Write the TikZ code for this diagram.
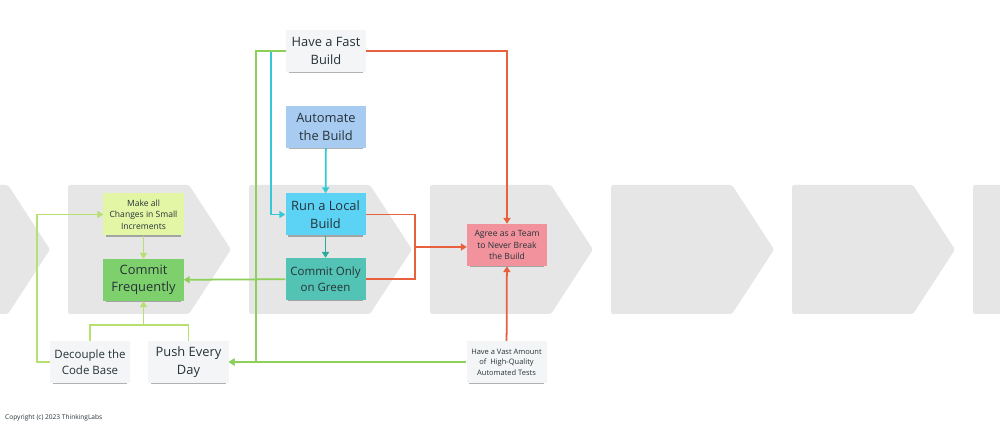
\documentclass[tikz,border=0pt]{standalone}
\usepackage{fontspec}
\setmainfont{Open Sans}
\usepackage{tikz}
\usetikzlibrary{arrows.meta,positioning,shadows}
\definecolor{LaneGray}{HTML}{E6E6E6}
\definecolor{NoteWhite}{HTML}{F4F5F6}
\definecolor{NoteText}{HTML}{263238}
\definecolor{AutoBlue}{HTML}{A8CBF2}
\definecolor{LocalCyan}{HTML}{5CD3F4}
\definecolor{GreenTeal}{HTML}{52C3B4}
\definecolor{TeamPink}{HTML}{F2929C}
\definecolor{StepLime}{HTML}{E2F6A6}
\definecolor{FreqGreen}{HTML}{7ED06C}
\definecolor{LinkRed}{HTML}{E9603E}
\definecolor{LinkCyan}{HTML}{35C9D6}
\definecolor{LinkTeal}{HTML}{2BAA99}
\definecolor{LinkGreen}{HTML}{8CD05A}
\definecolor{LinkLime}{HTML}{B8E070}

\begin{document}
\begin{tikzpicture}[x=0.03cm,y=-0.03cm,
        lane/.style={fill=LaneGray,rounded corners=2pt},
        note/.style={minimum width=2.4cm,minimum height=1.26cm,
                     align=center,inner sep=1pt,text=NoteText,
                     drop shadow={shadow xshift=0pt,shadow yshift=-2.5pt,
                                  shadow scale=0.93,opacity=0.4,fill=black!75}},
        txtbig/.style={font=\fontsize{11}{15}\selectfont},
        txtmid/.style={font=\fontsize{9.8}{13.6}\selectfont},
        txtsmall/.style={font=\fontsize{7.3}{9.8}\selectfont},
        txttiny/.style={font=\fontsize{6.4}{8.9}\selectfont},
        link/.style={line width=1.5pt},
        arrow/.style={link,-{Triangle[length=5pt,width=6pt]}}]
        \clip (0,0) rectangle (1000,427);
        \fill[white] (0,0) rectangle (1000,427);
        % value stream lanes
        \foreach \x in {-113,68,249,430,611,792,973}
          \fill[lane] (\x,185) -- (\x+121,185) -- (\x+163,249.5)
                      -- (\x+121,314) -- (\x,314) -- cycle;
        % notes
        \node[note,txtbig,fill=NoteWhite] (fast) at (326,51)
          {Have a Fast\\Build};
        \node[note,txtbig,fill=AutoBlue] (auto) at (326,127)
          {Automate\\the Build};
        \node[note,txtbig,fill=LocalCyan] (local) at (325.5,214.5)
          {Run a Local\\Build};
        \node[note,txtmid,fill=GreenTeal] (green) at (325.5,279)
          {Commit Only\\on Green};
        \node[note,txtsmall,fill=TeamPink] (team) at (507,245)
          {Agree as a Team\\to Never Break\\the Build};
        \node[note,txtsmall,fill=StepLime] (small) at (143.5,214.5)
          {Make all\\Changes in Small\\Increments};
        \node[note,txtbig,fill=FreqGreen] (freq) at (143.5,280)
          {Commit\\Frequently};
        \node[note,txtmid,fill=NoteWhite] (decouple) at (90,362)
          {Decouple the\\Code Base};
        \node[note,txtbig,fill=NoteWhite] (push) at (188.5,362)
          {Push Every\\Day};
        \node[note,txttiny,fill=NoteWhite] (tests) at (506.5,362)
          {Have a Vast Amount\\of\ \ High-Quality\\Automated Tests};
        \node[anchor=west,inner sep=0pt,font=\fontsize{5.6}{7}\selectfont,
              text=NoteText] (copy) at (5,418)
          {Copyright (c) 2023 ThinkingLabs};
        \coordinate (join) at (415,247);
        \coordinate (merge) at (143.5,325);
        % red links
        \draw[arrow,LinkRed] (fast.east) -| (team.north);
        \draw[link,LinkRed] (local.east) -| (join) |- (green.east);
        \draw[arrow,LinkRed] (join) -- (join -| team.west);
        \draw[arrow,LinkRed] (tests) -- (team);
        % cyan links
        \draw[arrow,LinkCyan] (fast.west) -- ++(-15,0) |- (local.west);
        \draw[arrow,LinkCyan] (auto) -- (local);
        \draw[arrow,LinkTeal] (local) -- (green);
        % green links
        \draw[arrow,LinkGreen] (fast.west) -- ++(-30,0) |- (push.east);
        \draw[arrow,LinkGreen] (tests.west) -- (push.east);
        \draw[arrow,LinkGreen] (green) -- (freq);
        \draw[arrow,LinkLime] (small) -- (freq);
        \draw[link,LinkLime] (decouple.north) |- (merge) -| (push.north);
        \draw[arrow,LinkLime] (merge) -- (freq.south);
        \draw[arrow,LinkLime] (decouple.west) -- ++(-13,0) |- (small.west);
      \end{tikzpicture}
\end{document}
